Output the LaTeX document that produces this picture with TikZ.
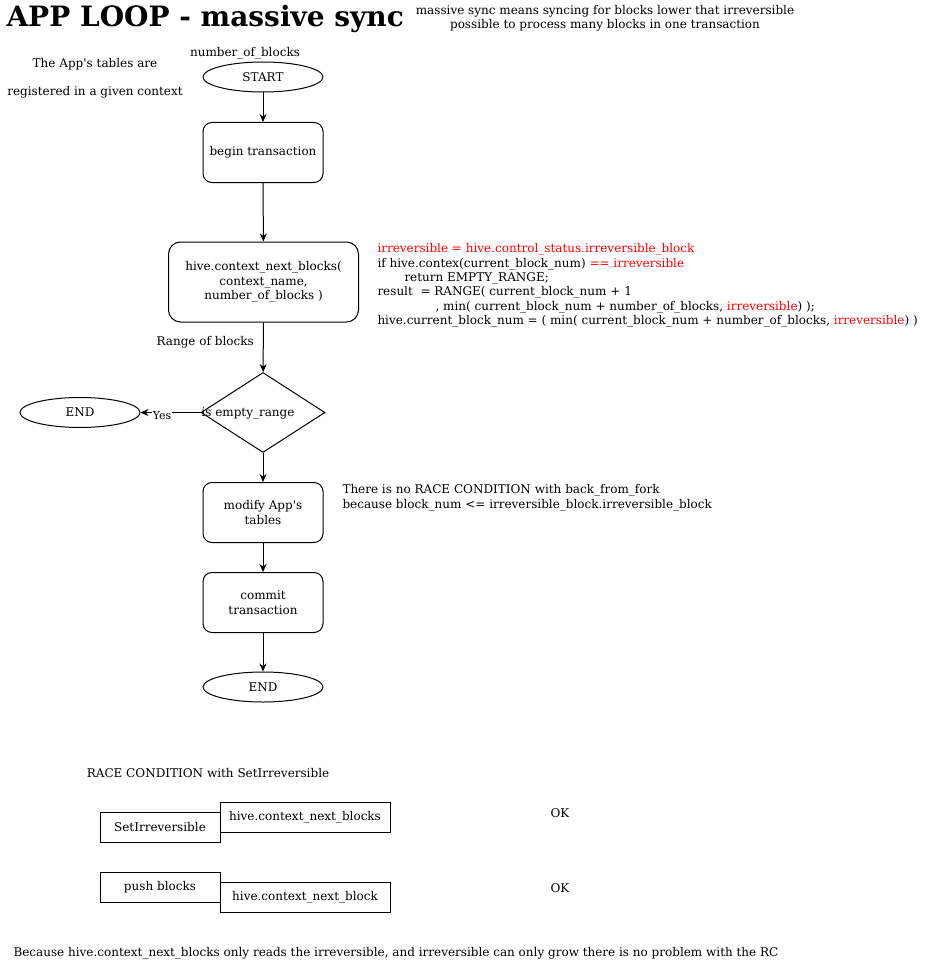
\documentclass[tikz,border=0pt]{standalone}
\usepackage{fontspec}
\setmainfont{DejaVu Serif}
\usetikzlibrary{shapes.geometric,arrows.meta}
\tikzset{
  flowbox/.style={draw, rounded corners=9pt, minimum width=120pt, minimum height=60pt, align=center, inner sep=2pt},
  terminal/.style={draw, ellipse, minimum width=120pt, minimum height=30pt, inner sep=0pt},
  decision/.style={draw, diamond, minimum width=124pt, minimum height=80pt, inner sep=0pt},
  plainbox/.style={draw, minimum height=30pt, inner sep=0pt},
  note/.style={inner sep=0pt, align=left},
}
\begin{document}
\begin{tikzpicture}[x=1pt, y=-1pt, line width=1pt, font=\fontsize{12}{14.4}\selectfont]
  \useasboundingbox (0,0) rectangle (936,963);
  % headings and notes
  \node[anchor=base west, inner sep=0pt, font=\fontsize{28}{34}\selectfont\bfseries] (title) at (6,27) {APP LOOP - massive sync};
  \node[note, align=center] (sync) at (605,18.5) {massive sync means syncing for blocks lower that irreversible\\possible to process many blocks in one transaction};
  \node[note, align=center, font=\fontsize{12}{28}\selectfont] (tables) at (95,78.5) {The App\textquotesingle s tables are\\registered in a given context};
  \node[inner sep=0pt] (nob) at (245,53.5) {number\_of\_blocks};
  \node[note, anchor=north west] (code) at (377,243) {\textcolor{red}{irreversible = hive.control\_status.irreversible\_block}\\
    if hive.contex(current\_block\_num) \textcolor{red}{== irreversible}\\
    \hspace*{27pt}return EMPTY\_RANGE;\\
    result\ \ = RANGE( current\_block\_num + 1\\
    \hspace*{58pt}, min( current\_block\_num + number\_of\_blocks, \textcolor{red}{irreversible}) );\\
    hive.current\_block\_num = ( min( current\_block\_num + number\_of\_blocks, \textcolor{red}{irreversible}) )};
  \node[note, anchor=west] (fork) at (342,498) {There is no RACE CONDITION with back\_from\_fork\\because block\_num <= irreversible\_block.irreversible\_block};
  % main loop
  \draw
    (263,77) node[terminal] (start) {START}
    (263,152.5) node[flowbox] (begin) {begin transaction}
    (263.5,282) node[flowbox, minimum width=190pt, minimum height=80pt, rounded corners=12pt] (next) {hive.context\_next\_blocks(\\context\_name,\\number\_of\_blocks )}
    (263,412.5) node[decision] (empty) {}
    (80,412.5) node[terminal] (endleft) {END}
    (263,512.5) node[flowbox] (modify) {modify App\textquotesingle s\\tables}
    (263,602.5) node[flowbox] (commit) {commit\\transaction}
    (263,687) node[terminal] (endloop) {END};
  \node[inner sep=0pt] (emptytext) at (248,413) {is empty\_range};
  \begin{scope}[-{Stealth[length=8pt, width=7pt]}]
    \draw (start) to (begin);
    \draw (begin) to (next);
    \draw (next) to node[pos=0.39, left=9pt, inner sep=0pt] (range) {Range of blocks} (empty);
    \draw (empty.west) to node[pos=0.64, yshift=-3pt, fill=white, inner sep=1pt, font=\fontsize{11}{13}\selectfont] (yes) {Yes} (endleft);
    \draw (empty) to (modify);
    \draw (modify) to (commit);
    \draw (commit) to (endloop);
  \end{scope}
  % race condition
  \node[inner sep=0pt] (race) at (208,773) {RACE CONDITION with SetIrreversible};
  \node[plainbox, minimum width=120pt] (setirr) at (160,827.5) {SetIrreversible};
  \node[plainbox, minimum width=170pt] (nexta) at (305,817.5) {hive.context\_next\_blocks};
  \node[plainbox, minimum width=120pt] (push) at (160,887.5) {push blocks};
  \node[plainbox, minimum width=170pt] (nextb) at (305,897.5) {hive.context\_next\_block};
  \node[inner sep=0pt] (oka) at (560,813) {OK};
  \node[inner sep=0pt] (okb) at (560,888) {OK};
  \node[inner sep=0pt, anchor=west] (rc) at (13,953) {Because hive.context\_next\_blocks only reads the irreversible, and irreversible can only grow there is no problem with the RC};
\end{tikzpicture}
\end{document}
